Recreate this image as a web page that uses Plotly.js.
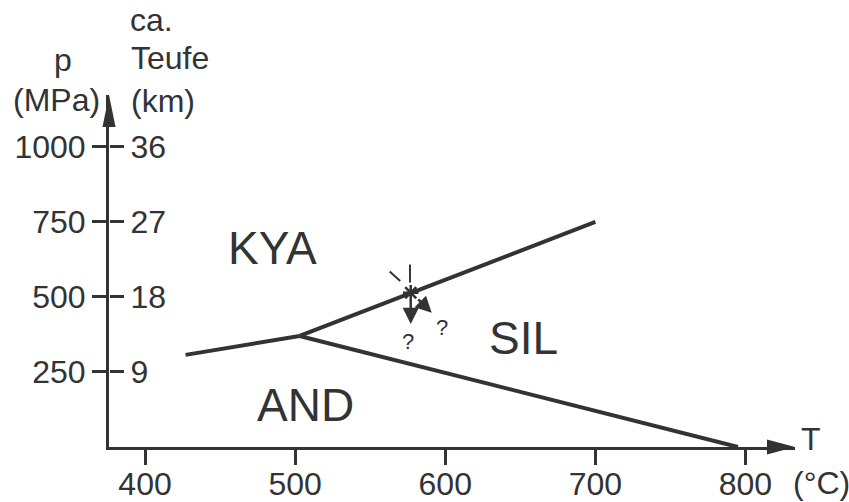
<!DOCTYPE html>
<html><head><meta charset="utf-8">
<script src="https://cdn.plot.ly/plotly-3.0.1.min.js"></script>
<style>body{margin:0;background:#fff}#chart{width:849px;height:502px}</style>
</head><body><div id="chart"></div>
<script>
// ---- data ----
const tempRange = [376, 833];            // °C
const pressureRange = [0, 1173];         // MPa
const tempTicks = [400, 500, 600, 700, 800];
const tempTickText = ['400', '500', '600', '700', '800'];
const pressureTicks = [250, 500, 750, 1000];
const pressureTickText = ['250', '500', '750', '1000'];
const depthTickText = ['9', '18', '27', '36'];

// phase boundaries (T in °C, p in MPa)
const kyaAndT = [427, 503];
const kyaAndP = [307, 370];
const kyaSilT = [503, 700];
const kyaSilP = [370, 750];
const andSilT = [503, 795];
const andSilP = [370, 0];

// observed point on the KYA/SIL boundary
const starT = [577];
const starP = [514];
const rayVertT = [576.5, 576.5];
const rayVertP = [548, 608];
const rayDiagT = [563, 570];
const rayDiagP = [585, 553];
const arrowTailT = [577, 581];
const arrowTailP = [495, 497];
const arrowTipT = [577, 591];
const arrowTipP = [410, 447];
const questionT = [575, 598];
const questionP = [350, 397];

// field labels
const phaseNames = ['KYA', 'SIL', 'AND'];
const phaseLabelT = [485, 652, 507];
const phaseLabelP = [663, 363, 140];

// ---- drawing ----
const ink = '#333333';
const font = 'Liberation Sans, Arial, sans-serif';
const W = 849, H = 502, mL = 109, mR = 54, mT = 95, mB = 55;
const pw = W - mL - mR, ph = H - mT - mB;
const px = x => (x - mL) / pw;
const py = y => (H - mB - y) / ph;

const traces = [
  {x: kyaAndT, y: kyaAndP, mode: 'lines', line: {color: ink, width: 4}, hoverinfo: 'skip'},
  {x: kyaSilT, y: kyaSilP, mode: 'lines', line: {color: ink, width: 4}, hoverinfo: 'skip'},
  {x: andSilT, y: andSilP, mode: 'lines', line: {color: ink, width: 4}, hoverinfo: 'skip'},
  {x: rayVertT, y: rayVertP, mode: 'lines', line: {color: ink, width: 2}, hoverinfo: 'skip'},
  {x: rayDiagT, y: rayDiagP, mode: 'lines', line: {color: ink, width: 2}, hoverinfo: 'skip'},
  {x: starT, y: starP, mode: 'markers', marker: {symbol: 'asterisk-open', size: 13, color: ink, line: {color: ink, width: 2.5}}, hoverinfo: 'skip'},
  {x: [tempRange[0]], y: [pressureRange[0]], yaxis: 'y2', mode: 'markers', marker: {opacity: 0}, hoverinfo: 'skip'}
];

const annotations = [];
phaseNames.forEach((n, i) => annotations.push({
  x: phaseLabelT[i], y: phaseLabelP[i], xref: 'x', yref: 'y', text: n, showarrow: false,
  font: {family: font, size: 46, color: ink}
}));
questionT.forEach((t, i) => annotations.push({
  x: t, y: questionP[i], xref: 'x', yref: 'y', text: '?', showarrow: false,
  font: {family: font, size: 22, color: ink}
}));
arrowTipT.forEach((t, i) => annotations.push({
  x: t, y: arrowTipP[i], ax: arrowTailT[i], ay: arrowTailP[i], xref: 'x', yref: 'y', axref: 'x', ayref: 'y',
  text: '', showarrow: true, arrowhead: 2, arrowsize: 1.3, arrowwidth: 2.5, arrowcolor: ink
}));
const axisText = [
  ['p', 63, 60, 'center'], ['(MPa)', 56, 100, 'center'],
  ['ca.', 128, 20, 'left'], ['Teufe', 129, 58, 'left'], ['(km)', 129, 101, 'left'],
  ['T', 811, 439, 'center'], ['(°C)', 821, 483, 'center']
];
axisText.forEach(a => annotations.push({
  x: px(a[1]), y: py(a[2]), xref: 'paper', yref: 'paper', text: a[0], showarrow: false,
  xanchor: a[3], yanchor: 'middle', font: {family: font, size: 32, color: ink}
}));

const axisCommon = {
  showgrid: false, zeroline: false, showline: true, linewidth: 3, linecolor: ink,
  ticks: 'outside', tickwidth: 3, tickcolor: ink, fixedrange: true,
  tickfont: {family: font, size: 32, color: ink}
};

const layout = {
  width: W, height: H, margin: {l: mL, r: mR, t: mT, b: mB},
  paper_bgcolor: '#fff', plot_bgcolor: '#fff', showlegend: false,
  xaxis: Object.assign({}, axisCommon, {range: tempRange, tickvals: tempTicks, ticktext: tempTickText, ticklen: 15, ticklabelstandoff: -8}),
  yaxis: Object.assign({}, axisCommon, {range: pressureRange, tickvals: pressureTicks, ticktext: pressureTickText, ticklen: 14}),
  yaxis2: Object.assign({}, axisCommon, {range: pressureRange, tickvals: pressureTicks, ticktext: depthTickText, ticklen: 14,
    overlaying: 'y', anchor: 'free', position: 0, side: 'right', showline: false, ticklabelstandoff: 0}),
  annotations: annotations,
  shapes: [
    {type: 'path', xref: 'paper', yref: 'paper', xsizemode: 'pixel', ysizemode: 'pixel', xanchor: 1, yanchor: 0,
     path: 'M -28 -7.5 L 0 0 L -28 7.5 Z', fillcolor: ink, line: {width: 0}},
    {type: 'path', xref: 'paper', yref: 'paper', xsizemode: 'pixel', ysizemode: 'pixel', xanchor: 0, yanchor: 1,
     path: 'M -6.5 -32 L 0 0 L 6.5 -32 Z', fillcolor: ink, line: {width: 0}}
  ]
};

Plotly.newPlot('chart', traces, layout, {staticPlot: true, displayModeBar: false});
</script></body></html>
